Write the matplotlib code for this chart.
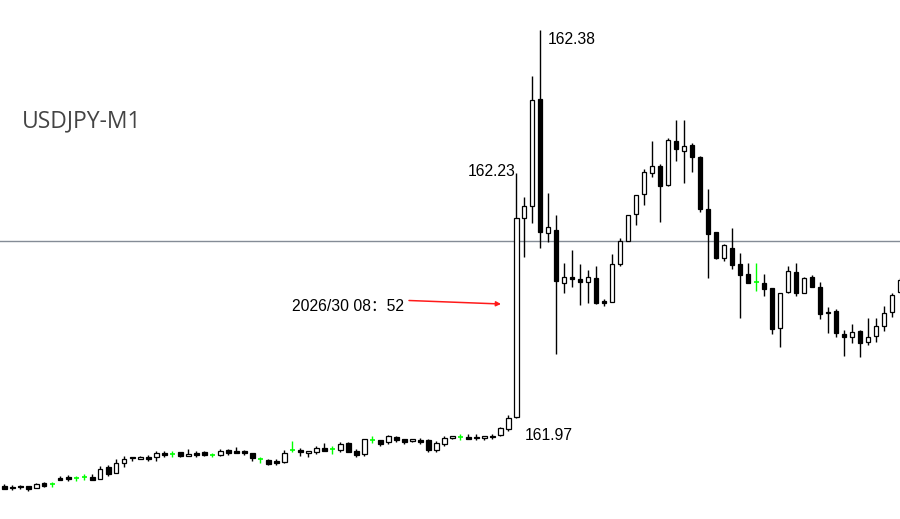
import numpy as np
import matplotlib
matplotlib.use('Agg')
import matplotlib.pyplot as plt

# USDJPY M1 bars (oldest -> newest)
opens = [161.912, 161.911, 161.912, 161.912, 161.910, 161.915, 161.914, 161.921, 161.922, 161.921,
         161.922, 161.922, 161.919, 161.932, 161.926, 161.936, 161.942, 161.940, 161.942, 161.942,
         161.946, 161.945, 161.947, 161.943, 161.946, 161.947, 161.944, 161.944, 161.949, 161.948,
         161.948, 161.946, 161.940, 161.939, 161.938, 161.937, 161.949, 161.949, 161.946, 161.947,
         161.951, 161.950, 161.949, 161.956, 161.948, 161.945, 161.959, 161.959, 161.957, 161.963,
         161.961, 161.958, 161.959, 161.959, 161.949, 161.955, 161.962, 161.963, 161.963, 161.963,
         161.962, 161.964, 161.965, 161.971, 161.983, 162.187, 162.199, 162.309, 162.172, 162.175,
         162.120, 162.127, 162.125, 162.122, 162.126, 162.102, 162.101, 162.140, 162.164, 162.191,
         162.212, 162.233, 162.240, 162.221, 162.266, 162.256, 162.262, 162.250, 162.196, 162.173,
         162.146, 162.156, 162.140, 162.130, 162.122, 162.121, 162.115, 162.074, 162.111, 162.132,
         162.110, 162.127, 162.116, 162.091, 162.092, 162.068, 162.065, 162.071, 162.060, 162.066,
         162.076, 162.091, 162.111]
highs = [161.914, 161.913, 161.913, 161.912, 161.915, 161.916, 161.916, 161.923, 161.924, 161.923,
         161.925, 161.925, 161.933, 161.934, 161.940, 161.943, 161.942, 161.943, 161.944, 161.948,
         161.948, 161.948, 161.947, 161.950, 161.948, 161.948, 161.946, 161.950, 161.950, 161.952,
         161.949, 161.946, 161.942, 161.940, 161.940, 161.949, 161.958, 161.951, 161.948, 161.953,
         161.956, 161.953, 161.957, 161.957, 161.950, 161.961, 161.964, 161.959, 161.965, 161.964,
         161.961, 161.961, 161.962, 161.961, 161.958, 161.964, 161.964, 161.966, 161.966, 161.966,
         161.964, 161.966, 161.973, 161.985, 162.233, 162.209, 162.333, 162.380, 162.213, 162.190,
         162.141, 162.154, 162.140, 162.134, 162.138, 162.104, 162.150, 162.167, 162.190, 162.211,
         162.237, 162.266, 162.243, 162.269, 162.288, 162.288, 162.264, 162.251, 162.217, 162.173,
         162.161, 162.177, 162.151, 162.141, 162.141, 162.130, 162.115, 162.110, 162.138, 162.141,
         162.127, 162.129, 162.122, 162.096, 162.094, 162.072, 162.078, 162.072, 162.085, 162.085,
         162.097, 162.110, 162.126]
lows = [161.909, 161.908, 161.909, 161.907, 161.910, 161.911, 161.911, 161.918, 161.917, 161.917,
        161.918, 161.918, 161.919, 161.923, 161.926, 161.932, 161.938, 161.940, 161.938, 161.938,
        161.942, 161.942, 161.942, 161.943, 161.942, 161.943, 161.942, 161.943, 161.944, 161.946,
        161.944, 161.938, 161.936, 161.934, 161.934, 161.936, 161.947, 161.943, 161.942, 161.945,
        161.948, 161.945, 161.947, 161.947, 161.942, 161.943, 161.956, 161.953, 161.955, 161.957,
        161.955, 161.957, 161.955, 161.947, 161.947, 161.953, 161.961, 161.959, 161.961, 161.959,
        161.959, 161.961, 161.964, 161.969, 161.982, 162.147, 162.182, 162.156, 162.163, 162.048,
        162.110, 162.116, 162.098, 162.100, 162.099, 162.097, 162.101, 162.138, 162.164, 162.180,
        162.201, 162.229, 162.183, 162.220, 162.246, 162.223, 162.234, 162.193, 162.126, 162.145,
        162.143, 162.135, 162.085, 162.121, 162.112, 162.107, 162.068, 162.055, 162.110, 162.107,
        162.110, 162.116, 162.084, 162.069, 162.065, 162.046, 162.059, 162.045, 162.057, 162.060,
        162.071, 162.086, 162.110]
closes = [161.909, 161.910, 161.911, 161.909, 161.914, 161.912, 161.914, 161.918, 161.920, 161.921,
          161.922, 161.918, 161.930, 161.925, 161.936, 161.940, 161.941, 161.942, 161.940, 161.946,
          161.944, 161.945, 161.943, 161.945, 161.944, 161.944, 161.944, 161.948, 161.946, 161.946,
          161.946, 161.941, 161.940, 161.935, 161.936, 161.946, 161.949, 161.947, 161.948, 161.951,
          161.948, 161.950, 161.955, 161.947, 161.944, 161.960, 161.959, 161.955, 161.964, 161.959,
          161.957, 161.961, 161.957, 161.949, 161.956, 161.962, 161.964, 161.963, 161.961, 161.962,
          161.964, 161.963, 161.972, 161.982, 162.187, 162.199, 162.308, 162.173, 162.178, 162.123,
          162.127, 162.125, 162.122, 162.127, 162.100, 162.100, 162.140, 162.164, 162.190, 162.211,
          162.234, 162.241, 162.220, 162.267, 162.258, 162.261, 162.250, 162.196, 162.171, 162.146,
          162.159, 162.139, 162.129, 162.121, 162.122, 162.114, 162.073, 162.110, 162.133, 162.110,
          162.126, 162.116, 162.089, 162.090, 162.069, 162.065, 162.070, 162.059, 162.065, 162.076,
          162.090, 162.108, 162.124]

hline_price = 162.164
label_time = '2026/30 08：52'
chart_title = 'USDJPY-M1'

W, H = 900, 519
fig = plt.figure(figsize=(W / 100, H / 100), dpi=100)
ax = fig.add_axes([0, 0, 1, 1])
ax.set_axis_off()

o = np.array(opens); h = np.array(highs); l = np.array(lows); c = np.array(closes)
x = np.arange(len(o))
up = c > o
dn = c < o
dj = c == o

ax.axhline(hline_price, color='#848c96', lw=1, zorder=1)

# wicks
ax.vlines(x[~dj], l[~dj], h[~dj], color='black', lw=1, zorder=2)
ax.vlines(x[dj], l[dj], h[dj], color='#00ff00', lw=1, zorder=2)
# bodies
bw = 0.55
ax.bar(x[up], c[up] - o[up], bottom=o[up], width=bw, color='white',
       edgecolor='black', linewidth=0.9, zorder=3)
ax.bar(x[dn], o[dn] - c[dn], bottom=c[dn], width=bw, color='black',
       edgecolor='black', linewidth=0.9, zorder=3)
ax.hlines(o[dj], x[dj] - bw / 2, x[dj] + bw / 2, color='#00ff00', lw=1.2, zorder=3)

# pixel layout: bar i at x = 4.3 + 8 i
ax.set_xlim(-4.3 / 8, (W - 4.3) / 8)
ax.set_ylim(162.38 - 489 / 975, 162.38 + 30 / 975)


def px(xp, yp):
    return xp / W, 1 - yp / H


num_font = ['Liberation Sans', 'DejaVu Sans']
fig.text(*px(22, 121), chart_title, fontsize=16.5, color='#444444',
         family=['Open Sans', 'DejaVu Sans'], va='center', ha='left')
fig.text(*px(548, 44), f'{h[67]:.2f}', fontsize=11.3, family=num_font,
         va='baseline', ha='left')
fig.text(*px(516, 175.5), f'{h[64]:.2f}', fontsize=11.3, family=num_font,
         va='baseline', ha='right')
fig.text(*px(525, 440), f'{l[63]:.2f}', fontsize=11.3, family=num_font,
         va='baseline', ha='left')
fig.text(*px(292, 310.5), label_time, fontsize=11.3,
         family=['Liberation Sans', 'Noto Sans CJK SC'], va='baseline', ha='left')

ax.annotate('', xy=px(501, 304), xytext=px(409, 300.5),
            xycoords='figure fraction', textcoords='figure fraction',
            arrowprops=dict(arrowstyle='-|>', color='#ff1a1a', lw=1.1,
                            mutation_scale=7, shrinkA=0, shrinkB=0))

fig.savefig('out.png', dpi=100, facecolor='white')
